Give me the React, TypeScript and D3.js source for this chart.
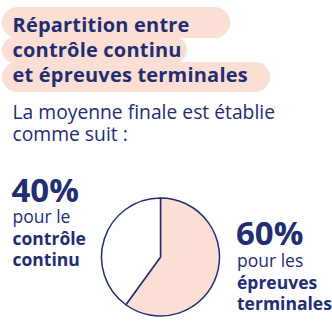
import React from "react";
import * as d3 from "d3";

const categories = ["épreuves terminales", "contrôle continu"];
const values = [60, 40];
const titleLines = ["Répartition entre", "contrôle continu", "et épreuves terminales"];
const subtitleLines = ["La moyenne finale est établie", "comme suit :"];

const NAVY = "#222d72";
const PINK = "#fcdfd4";
const FONT = "'Open Sans', sans-serif";

export default function App() {
  const W = 332, H = 322;
  const cx = 160.5, cy = 257, r = 59;
  const pie = d3.pie<number>().sort(null).value((d) => d)(values);
  const arc = d3.arc<d3.PieArcDatum<number>>().innerRadius(0).outerRadius(r);
  const fills = [PINK, "#ffffff"];

  const pills = [
    { y: 7, h: 31, w: 228 },
    { y: 37, h: 26, w: 185 },
    { y: 62, h: 30, w: 268 },
  ];
  const titleBase = [32, 57, 82];

  return (
    <svg width={W} height={H} style={{ position: "absolute", left: 0, top: 0 }}>
      <rect width={W} height={H} fill="#ffffff" />
      {pills.map((p, i) => (
        <rect key={i} x={2} y={p.y} width={p.w} height={p.h} rx={p.h / 2} fill={PINK} />
      ))}
      {titleLines.map((t, i) => (
        <text key={t} x={12.5} y={titleBase[i]} fill={NAVY} fontFamily={FONT} fontWeight={700} fontSize={20} letterSpacing={0.2}>
          {t}
        </text>
      ))}
      {subtitleLines.map((t, i) => (
        <text key={t} x={12.5} y={119.3 + i * 21.5} fill={NAVY} fontFamily={FONT} fontSize={19.3}>
          {t}
        </text>
      ))}
      <g transform={`translate(${cx},${cy})`}>
        {pie.map((d, i) => (
          <path key={categories[i]} d={arc(d) || ""} fill={fills[i]} stroke={NAVY} strokeWidth={1.5} strokeLinejoin="round" />
        ))}
      </g>
      <text x={11.5} y={201.5} fill={NAVY} fontFamily={FONT} fontWeight={700} fontSize={33}>{`${values[1]}%`}</text>
      <text x={12.5} y={223.3} fill={NAVY} fontFamily={FONT} fontSize={17.5}>pour le</text>
      <text x={12.5} y={245} fill={NAVY} fontFamily={FONT} fontWeight={700} fontSize={17.5}>contrôle</text>
      <text x={12.5} y={266} fill={NAVY} fontFamily={FONT} fontWeight={700} fontSize={17.5}>continu</text>

      <text x={236} y={244.5} fill={NAVY} fontFamily={FONT} fontWeight={700} fontSize={33}>{`${values[0]}%`}</text>
      <text x={237} y={266.5} fill={NAVY} fontFamily={FONT} fontSize={17.5}>pour les</text>
      <text x={237} y={288.5} fill={NAVY} fontFamily={FONT} fontWeight={700} fontSize={17.5}>épreuves</text>
      <text x={237} y={309.5} fill={NAVY} fontFamily={FONT} fontWeight={700} fontSize={17.5}>terminales</text>
    </svg>
  );
}
